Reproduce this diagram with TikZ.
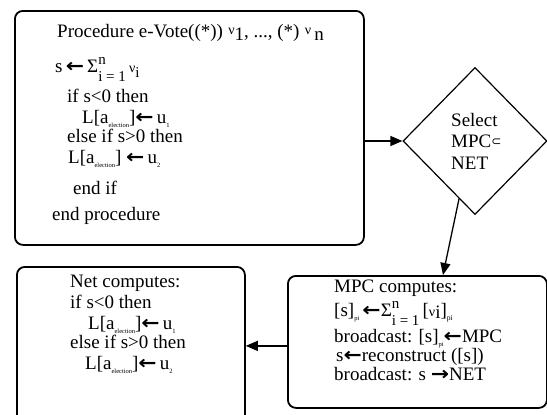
\documentclass[tikz,border=0pt]{standalone}
\usepackage{fontspec}
\usepackage{graphicx}
\setmainfont{Liberation Serif}
\newfontfamily\symfont{DejaVu Sans}
\usetikzlibrary{shapes.geometric,arrows.meta,calc}
\newcommand\lar{{\symfont\bfseries\scalebox{1.15}[1]{←}}}
\newcommand\rar{{\symfont\bfseries\scalebox{1.15}[1]{→}}}
\newcommand\tsub[1]{\raisebox{-0.45ex}{\fontsize{6.5}{6.5}\selectfont #1}}
\newcommand\msub[1]{\raisebox{-0.45ex}{\fontsize{7.5}{7.5}\selectfont #1}}
\newcommand\nuv{{\fontsize{14}{14}\selectfont ν}}
\newcommand\sumn{Σ\raisebox{-9.4pt}{\fontsize{15}{17.5}\selectfont\begin{tabular}[b]{@{}l@{}}n\\i = 1\end{tabular}}}
\tikzset{
  box/.style={draw, line width=1.8pt, rounded corners=8pt, anchor=north west, inner sep=0pt},
  txt/.style={anchor=mid west, inner sep=0pt, font=\fontsize{19}{21}\selectfont},
  arr/.style={line width=1.3pt, -{Triangle[length=12pt,width=10pt]}},
}
\begin{document}
\begin{tikzpicture}[x=1pt,y=-1pt]
\useasboundingbox (0,0) rectangle (547,415);
\clip (0,0) rectangle (547,415);
% boxes
\node[box, minimum width=349pt, minimum height=234pt] (top) at (14,10) {};
\node[draw, diamond, line width=1.2pt, minimum width=144pt, minimum height=147pt, inner sep=0pt] (sel) at (475,141) {};
\node[box, minimum width=259pt, minimum height=132pt] (mpc) at (287,275) {};
\node[box, minimum width=228pt, minimum height=170pt] (net) at (16,266) {};
% top box text
\node[txt] (t1) at (57,35) {Procedure e-Vote((*))\;\raisebox{0.3ex}{\nuv}\raisebox{-0.4ex}{1}, ..., (*)\;\raisebox{0.3ex}{\nuv}\,\raisebox{-0.4ex}{n}};
\node[txt] (t2) at (55,70) {s\,\lar\,\sumn\,\nuv\raisebox{-0.55ex}{\fontsize{15}{15}\selectfont i}};
\node[txt] (t3) at (67,100) {if s<0 then};
\node[txt] (t4) at (82,121) {L[a\tsub{election}]\lar\,u\tsub{1}};
\node[txt] (t5) at (67,140) {else if s>0 then};
\node[txt] (t6) at (68,161) {L[a\tsub{election}] \lar\,u\tsub{2}};
\node[txt] (t7) at (73,192) {end if};
\node[txt] (t8) at (52,218) {end procedure};
% diamond text
\node[txt, anchor=west, align=left, font=\fontsize{19}{21.5}\selectfont] (st) at (451,141) {Select\\MPC{\symfont\fontsize{12}{12}\selectfont\raisebox{0.35ex}{⊂}}\\NET};
% mpc text
\node[txt] (m1) at (334,290) {MPC computes:};
\node[txt] (m2) at (334,314) {[s]\tsub{pi}\,\lar\sumn\,[\nuv\raisebox{-0.3ex}{i}]\msub{pi}};
\node[txt] (m3) at (334,340) {broadcast: [s]\tsub{pi}\lar MPC};
\node[txt] (m4) at (336,359) {s\lar reconstruct ([s])};
\node[txt] (m5) at (334,378) {broadcast: s \rar NET};
% net text
\node[txt] (n1) at (70,285) {Net computes:};
\node[txt] (n2) at (70,306) {if s<0 then};
\node[txt] (n3) at (88,327) {L[a\tsub{election}]\lar\,u\tsub{1}};
\node[txt] (n4) at (70,346) {else if s>0 then};
\node[txt] (n5) at (85,367) {L[a\tsub{election}]\lar\,u\tsub{2}};
% connectors
\draw[arr] (sel.west -| top.east) -- (sel.west);
\coordinate (s1) at ($(sel.west)!0.78!(sel.south)$);
\coordinate (e1) at ($(mpc.north west)!0.598!(mpc.north east)$);
\draw[arr] (s1) -- (e1);
\coordinate (a3) at ($(mpc.west)+(0,4)$);
\draw[arr] (a3) -- (a3 -| net.east);
\end{tikzpicture}
\end{document}
